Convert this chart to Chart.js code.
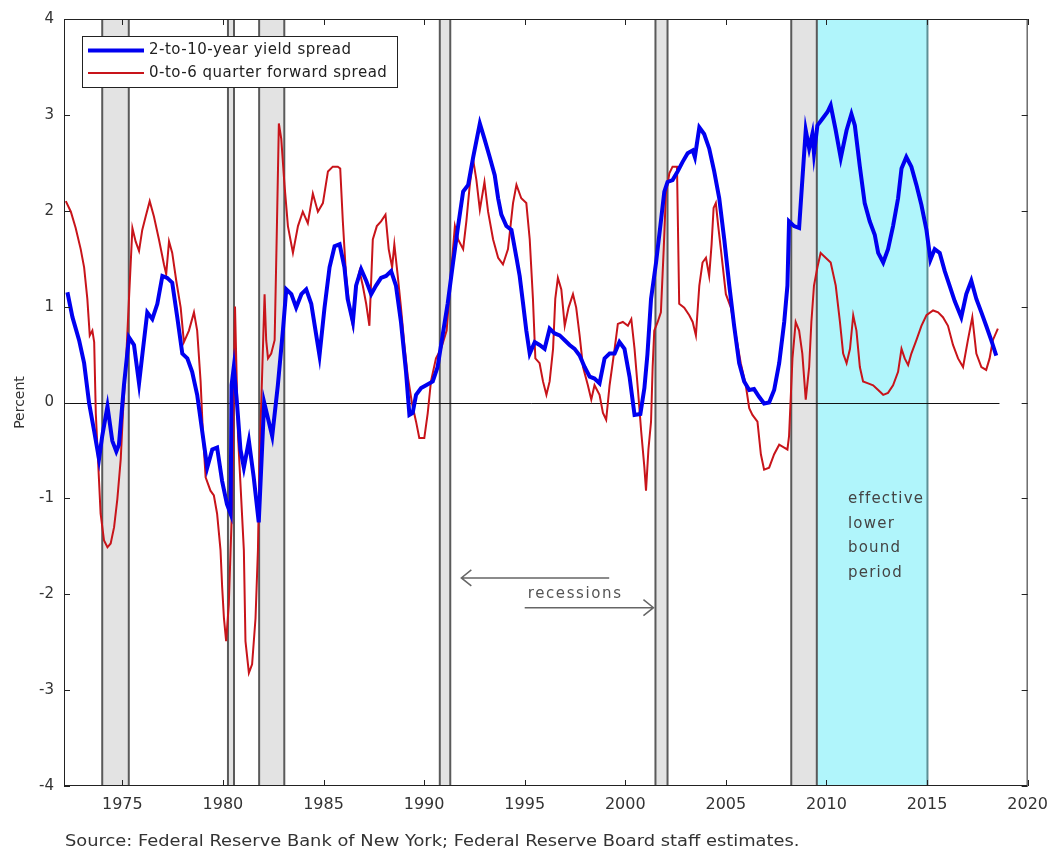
<!DOCTYPE html>
<html>
<head>
<meta charset="utf-8">
<script src="https://cdn.jsdelivr.net/npm/chart.js@4.4.1/dist/chart.umd.min.js"></script>
<style>
  body { margin: 0; background: #fff; }
  #wrap { position: relative; width: 1057px; height: 854px; }
  #source {
    position: absolute; left: 65px; top: 832px;
    font: 15px "DejaVu Sans", sans-serif; color: #333; white-space: nowrap;
    transform: scaleX(1.19); transform-origin: left top;
  }
</style>
</head>
<body>
<div id="wrap">
  <canvas id="spreadChart" width="1057" height="854"></canvas>
  <div id="source">Source: Federal Reserve Bank of New York; Federal Reserve Board staff estimates.</div>
</div>
<script>
// --- DATA ---
const spreadYears = [
  1972.27, 1972.52, 1972.85, 1973.10, 1973.35, 1973.60, 1973.84, 1974.00, 1974.26, 1974.50,
  1974.70, 1974.83, 1975.08, 1975.33, 1975.58, 1975.83, 1976.00, 1976.24, 1976.49, 1976.74,
  1976.99, 1977.23, 1977.48, 1977.73, 1977.98, 1978.23, 1978.47, 1978.72, 1978.97, 1979.22,
  1979.47, 1979.71, 1979.96, 1980.20, 1980.38, 1980.43, 1980.54, 1980.70, 1980.87, 1981.04,
  1981.29, 1981.53, 1981.78, 1982.05, 1982.45, 1982.73, 1982.98, 1983.15, 1983.40, 1983.64,
  1983.90, 1984.14, 1984.39, 1984.64, 1984.80, 1985.05, 1985.30, 1985.55, 1985.80, 1986.04,
  1986.20, 1986.46, 1986.62, 1986.87, 1987.12, 1987.37, 1987.61, 1987.86, 1988.11, 1988.36,
  1988.60, 1988.85, 1989.10, 1989.27, 1989.43, 1989.60, 1989.85, 1990.10, 1990.43, 1990.67,
  1990.92, 1991.17, 1991.44, 1991.69, 1991.94, 1992.19, 1992.44, 1992.77, 1993.00, 1993.26,
  1993.51, 1993.68, 1993.84, 1994.09, 1994.34, 1994.59, 1994.75, 1994.92, 1995.08, 1995.25,
  1995.50, 1995.74, 1995.99, 1996.24, 1996.49, 1996.74, 1996.99, 1997.23, 1997.48, 1997.73,
  1997.98, 1998.23, 1998.47, 1998.72, 1998.97, 1999.22, 1999.47, 1999.71, 1999.96, 2000.21,
  2000.46, 2000.75, 2000.95, 2001.10, 2001.28, 2001.53, 2001.77, 2001.94, 2002.10, 2002.35,
  2002.60, 2002.85, 2003.10, 2003.35, 2003.46, 2003.68, 2003.92, 2004.17, 2004.42, 2004.67,
  2004.92, 2005.17, 2005.41, 2005.66, 2005.91, 2006.16, 2006.40, 2006.65, 2006.90, 2007.15,
  2007.40, 2007.65, 2007.90, 2008.06, 2008.14, 2008.39, 2008.64, 2008.80, 2008.97, 2009.14,
  2009.30, 2009.38, 2009.55, 2009.80, 2010.05, 2010.21, 2010.45, 2010.71, 2011.00, 2011.24,
  2011.41, 2011.66, 2011.90, 2012.15, 2012.40, 2012.57, 2012.82, 2013.06, 2013.31, 2013.56,
  2013.73, 2013.97, 2014.22, 2014.47, 2014.72, 2014.97, 2015.17, 2015.38, 2015.63, 2015.88,
  2016.12, 2016.37, 2016.70, 2016.95, 2017.20, 2017.45, 2017.70, 2017.94, 2018.19, 2018.44
];
const spreadValues = [
  1.15, 0.89, 0.65, 0.41, -0.01, -0.30, -0.59, -0.35, -0.04, -0.40,
  -0.51, -0.44, 0.18, 0.68, 0.60, 0.20, 0.51, 0.94, 0.87, 1.03,
  1.32, 1.30, 1.25, 0.89, 0.51, 0.46, 0.32, 0.08, -0.30, -0.68,
  -0.49, -0.47, -0.82, -1.06, -1.16, 0.18, 0.37, -0.01, -0.49, -0.68,
  -0.40, -0.78, -1.25, 0.00, -0.35, 0.18, 0.75, 1.18, 1.13, 0.99,
  1.13, 1.18, 1.03, 0.70, 0.49, 0.99, 1.41, 1.63, 1.65, 1.41,
  1.08, 0.84, 1.22, 1.39, 1.27, 1.13, 1.22, 1.30, 1.32, 1.37,
  1.22, 0.84, 0.32, -0.13, -0.11, 0.08, 0.15, 0.18, 0.22, 0.37,
  0.70, 1.03, 1.46, 1.84, 2.20, 2.27, 2.56, 2.91, 2.75, 2.56,
  2.37, 2.13, 1.96, 1.84, 1.80, 1.51, 1.32, 1.03, 0.75, 0.51,
  0.63, 0.60, 0.56, 0.77, 0.72, 0.70, 0.65, 0.60, 0.56, 0.49,
  0.37, 0.27, 0.25, 0.20, 0.46, 0.51, 0.51, 0.63, 0.56, 0.27,
  -0.13, -0.12, 0.15, 0.50, 1.08, 1.46, 1.89, 2.20, 2.30, 2.32,
  2.41, 2.51, 2.60, 2.63, 2.56, 2.87, 2.80, 2.65, 2.41, 2.13,
  1.70, 1.22, 0.80, 0.41, 0.22, 0.13, 0.14, 0.06, -0.01, 0.00,
  0.13, 0.41, 0.84, 1.22, 1.89, 1.84, 1.82, 2.32, 2.84, 2.65,
  2.80, 2.60, 2.89, 2.96, 3.03, 3.10, 2.85, 2.55, 2.84, 3.01,
  2.89, 2.46, 2.08, 1.89, 1.75, 1.56, 1.46, 1.60, 1.84, 2.13,
  2.44, 2.56, 2.46, 2.27, 2.06, 1.80, 1.49, 1.60, 1.56, 1.37,
  1.22, 1.06, 0.89, 1.13, 1.27, 1.08, 0.94, 0.80, 0.65, 0.49
];

const forwardYears = [
  1972.19, 1972.44, 1972.68, 1972.93, 1973.10, 1973.26, 1973.38, 1973.51, 1973.60, 1973.68,
  1973.81, 1973.92, 1974.09, 1974.26, 1974.42, 1974.59, 1974.75, 1974.92, 1975.03, 1975.17,
  1975.33, 1975.50, 1975.66, 1975.83, 1975.99, 1976.16, 1976.36, 1976.57, 1976.82, 1977.07,
  1977.18, 1977.32, 1977.48, 1977.68, 1977.90, 1978.06, 1978.31, 1978.56, 1978.72, 1978.89,
  1979.00, 1979.14, 1979.38, 1979.55, 1979.71, 1979.88, 1979.96, 1980.05, 1980.16, 1980.29,
  1980.38, 1980.46, 1980.60, 1980.75, 1981.04, 1981.12, 1981.29, 1981.45, 1981.62, 1981.74,
  1981.82, 1981.96, 1982.07, 1982.15, 1982.24, 1982.40, 1982.57, 1982.68, 1982.78, 1982.90,
  1983.06, 1983.23, 1983.48, 1983.73, 1983.97, 1984.22, 1984.47, 1984.72, 1984.97, 1985.22,
  1985.46, 1985.71, 1985.83, 1985.96, 1986.12, 1986.29, 1986.46, 1986.62, 1986.79, 1986.95,
  1987.12, 1987.28, 1987.45, 1987.65, 1987.86, 1988.08, 1988.24, 1988.41, 1988.52, 1988.69,
  1988.85, 1989.02, 1989.19, 1989.40, 1989.60, 1989.76, 1990.01, 1990.18, 1990.34, 1990.59,
  1990.84, 1991.12, 1991.36, 1991.53, 1991.69, 1991.94, 1992.10, 1992.27, 1992.44, 1992.60,
  1992.77, 1993.00, 1993.18, 1993.43, 1993.68, 1993.92, 1994.17, 1994.42, 1994.59, 1994.83,
  1995.08, 1995.25, 1995.41, 1995.53, 1995.74, 1995.91, 1996.08, 1996.24, 1996.41, 1996.52,
  1996.65, 1996.82, 1996.99, 1997.18, 1997.40, 1997.56, 1997.73, 1997.90, 1998.14, 1998.31,
  1998.47, 1998.72, 1998.89, 1999.05, 1999.22, 1999.47, 1999.63, 1999.88, 2000.13, 2000.30,
  2000.46, 2000.63, 2000.79, 2000.95, 2001.03, 2001.15, 2001.28, 2001.36, 2001.44, 2001.61,
  2001.77, 2001.91, 2002.02, 2002.19, 2002.35, 2002.57, 2002.68, 2002.93, 2003.18, 2003.35,
  2003.51, 2003.68, 2003.84, 2004.01, 2004.17, 2004.29, 2004.39, 2004.50, 2004.62, 2004.75,
  2005.00, 2005.25, 2005.50, 2005.74, 2005.99, 2006.16, 2006.32, 2006.57, 2006.74, 2006.90,
  2007.15, 2007.40, 2007.65, 2007.90, 2008.06, 2008.14, 2008.31, 2008.47, 2008.64, 2008.80,
  2008.97, 2009.14, 2009.25, 2009.38, 2009.55, 2009.71, 2009.96, 2010.21, 2010.46, 2010.67,
  2010.83, 2011.00, 2011.17, 2011.33, 2011.49, 2011.66, 2011.82, 2012.07, 2012.32, 2012.57,
  2012.82, 2013.06, 2013.31, 2013.56, 2013.73, 2013.89, 2014.06, 2014.22, 2014.47, 2014.72,
  2014.97, 2015.30, 2015.55, 2015.79, 2016.04, 2016.29, 2016.54, 2016.79, 2017.03, 2017.25,
  2017.45, 2017.70, 2017.94, 2018.11, 2018.27, 2018.52
];
const forwardValues = [
  2.10, 1.99, 1.82, 1.60, 1.41, 1.08, 0.70, 0.75, 0.63, -0.11,
  -0.68, -1.16, -1.44, -1.51, -1.47, -1.30, -1.01, -0.59, -0.11, 0.37,
  1.08, 1.82, 1.68, 1.58, 1.80, 1.94, 2.10, 1.94, 1.70, 1.44,
  1.34, 1.68, 1.56, 1.27, 0.99, 0.63, 0.75, 0.94, 0.75, 0.22,
  -0.30, -0.78, -0.92, -0.97, -1.16, -1.54, -1.92, -2.25, -2.49, -2.11,
  -1.54, -1.06, 1.00, -0.35, -1.54, -2.49, -2.82, -2.73, -2.25, -1.54,
  -0.59, 0.37, 1.13, 0.65, 0.46, 0.51, 0.65, 1.80, 2.91, 2.75,
  2.27, 1.84, 1.56, 1.84, 1.99, 1.87, 2.18, 1.99, 2.08, 2.41,
  2.46, 2.46, 2.44, 1.89, 1.32, 0.99, 0.80, 1.22, 1.37, 1.22,
  1.03, 0.80, 1.70, 1.84, 1.89, 1.96, 1.60, 1.41, 1.65, 1.32,
  0.99, 0.60, 0.27, -0.01, -0.20, -0.37, -0.37, -0.11, 0.22, 0.46,
  0.56, 0.75, 1.41, 1.84, 1.70, 1.60, 1.89, 2.27, 2.53, 2.32,
  2.01, 2.30, 1.99, 1.70, 1.51, 1.44, 1.60, 2.08, 2.27, 2.13,
  2.08, 1.70, 1.08, 0.46, 0.41, 0.22, 0.08, 0.22, 0.56, 1.08,
  1.30, 1.18, 0.80, 0.99, 1.13, 0.99, 0.70, 0.37, 0.18, 0.03,
  0.18, 0.08, -0.11, -0.18, 0.18, 0.56, 0.82, 0.84, 0.80, 0.87,
  0.56, 0.13, -0.30, -0.68, -0.92, -0.49, -0.20, 0.37, 0.75, 0.84,
  0.94, 1.60, 2.18, 2.39, 2.46, 2.46, 1.03, 0.99, 0.91, 0.84,
  0.70, 1.22, 1.46, 1.51, 1.32, 1.65, 2.03, 2.08, 1.84, 1.60,
  1.13, 0.99, 0.70, 0.41, 0.18, -0.06, -0.13, -0.20, -0.54, -0.70,
  -0.68, -0.54, -0.44, -0.47, -0.49, -0.35, 0.46, 0.84, 0.75, 0.51,
  0.03, 0.37, 0.84, 1.22, 1.41, 1.56, 1.51, 1.46, 1.22, 0.84,
  0.51, 0.41, 0.56, 0.91, 0.75, 0.37, 0.22, 0.20, 0.18, 0.13,
  0.08, 0.10, 0.18, 0.32, 0.56, 0.46, 0.39, 0.51, 0.65, 0.80,
  0.91, 0.96, 0.94, 0.89, 0.80, 0.60, 0.46, 0.37, 0.65, 0.89,
  0.51, 0.37, 0.34, 0.46, 0.65, 0.77
];

// NBER recessions and the effective lower bound period (decimal years)
const recessionStarts = [1974.00, 1980.25, 1981.80, 1990.78, 2001.50, 2008.25];
const recessionEnds   = [1975.32, 1980.55, 1983.05, 1991.30, 2002.10, 2009.52];
const elbStart = 2009.52;
const elbEnd = 2015.02;
const zeroLineEnd = 2018.6;

const xMin = 1972.1, xMax = 2020;
const yMin = -4, yMax = 4;
const xTickStep = 5, yTickStep = 1;

const FONT = '"DejaVu Sans", sans-serif';

function toPoints(xs, ys) {
    return xs.map((x, i) => ({ x: x, y: ys[i] }));
}

// --- BACKGROUND: recession bars, ELB shading, zero line ---
const shadingPlugin = {
    id: 'shading',
    beforeDatasetsDraw(chart) {
        const { ctx, chartArea: a, scales: { x, y } } = chart;
        ctx.save();

        const e0 = x.getPixelForValue(elbStart), e1 = x.getPixelForValue(elbEnd);
        ctx.fillStyle = '#b0f5fb';
        ctx.fillRect(e0, a.top, e1 - e0, a.bottom - a.top);
        ctx.strokeStyle = '#5e9096';
        ctx.lineWidth = 2;
        ctx.beginPath();
        ctx.moveTo(e1, a.top); ctx.lineTo(e1, a.bottom);
        ctx.stroke();

        recessionStarts.forEach((s, i) => {
            const r0 = x.getPixelForValue(s), r1 = x.getPixelForValue(recessionEnds[i]);
            ctx.fillStyle = '#e3e3e3';
            ctx.fillRect(r0, a.top, r1 - r0, a.bottom - a.top);
            ctx.strokeStyle = '#5a5a5a';
            ctx.lineWidth = 2;
            ctx.beginPath();
            ctx.moveTo(r0, a.top); ctx.lineTo(r0, a.bottom);
            ctx.moveTo(r1, a.top); ctx.lineTo(r1, a.bottom);
            ctx.stroke();
        });

        // horizontal zero line
        const y0 = Math.round(y.getPixelForValue(0)) + 0.5;
        ctx.strokeStyle = '#111';
        ctx.lineWidth = 1;
        ctx.beginPath();
        ctx.moveTo(a.left, y0);
        ctx.lineTo(x.getPixelForValue(zeroLineEnd), y0);
        ctx.stroke();
        ctx.restore();
    },

    afterDatasetsDraw(chart) {
        const { ctx, chartArea: a, scales: { x, y } } = chart;
        ctx.save();

        // frame + inward ticks on all four sides
        ctx.strokeStyle = '#222';
        ctx.lineWidth = 1;
        ctx.strokeRect(a.left + 0.5, a.top + 0.5, a.right - a.left - 1, a.bottom - a.top - 1);
        const tl = 6;
        ctx.beginPath();
        for (let v = yMin; v <= yMax; v += yTickStep) {
            const py = Math.round(y.getPixelForValue(v)) + 0.5;
            ctx.moveTo(a.left, py); ctx.lineTo(a.left + tl, py);
            ctx.moveTo(a.right, py); ctx.lineTo(a.right - tl, py);
        }
        for (let v = Math.ceil(xMin / xTickStep) * xTickStep; v <= xMax; v += xTickStep) {
            const px = Math.round(x.getPixelForValue(v)) + 0.5;
            ctx.moveTo(px, a.bottom); ctx.lineTo(px, a.bottom - tl);
            ctx.moveTo(px, a.top); ctx.lineTo(px, a.top + tl);
        }
        ctx.stroke();

        // ELB label
        ctx.fillStyle = '#444';
        ctx.font = '15px ' + FONT;
        ctx.letterSpacing = '1.2px';
        ctx.textAlign = 'left';
        ctx.textBaseline = 'middle';
        const lx = x.getPixelForValue(2011.07);
        const ly = y.getPixelForValue(-1.01);
        ['effective', 'lower', 'bound', 'period'].forEach((t, i) => ctx.fillText(t, lx, ly + i * 24.5));

        // recession arrows
        ctx.strokeStyle = '#666';
        ctx.lineWidth = 1.5;
        const arrow = (fromYr, toYr, val) => {
            const x0 = x.getPixelForValue(fromYr), x1 = x.getPixelForValue(toYr), py = y.getPixelForValue(val);
            const dir = Math.sign(x1 - x0);
            ctx.beginPath();
            ctx.moveTo(x0, py); ctx.lineTo(x1, py);
            ctx.moveTo(x1 - dir * 10, py - 8); ctx.lineTo(x1, py); ctx.lineTo(x1 - dir * 10, py + 8);
            ctx.stroke();
        };
        arrow(1999.2, 1991.85, -1.83);
        arrow(1995.0, 2001.4, -2.14);
        ctx.fillStyle = '#555';
        ctx.letterSpacing = '1.6px';
        ctx.textAlign = 'left';
        ctx.fillText('recessions', x.getPixelForValue(1995.15), y.getPixelForValue(-2.0));
        ctx.restore();
    },

    // legend box in the upper left of the plot
    afterDraw(chart) {
        const { ctx, chartArea: a } = chart;
        const bx = a.left + 18, by = a.top + 17, bw = 315, bh = 51;
        ctx.save();
        ctx.fillStyle = '#fff';
        ctx.fillRect(bx, by, bw, bh);
        ctx.strokeStyle = '#222';
        ctx.lineWidth = 1;
        ctx.strokeRect(bx + 0.5, by + 0.5, bw, bh);
        ctx.font = '15px ' + FONT;
        ctx.letterSpacing = '0.5px';
        ctx.textAlign = 'left';
        ctx.textBaseline = 'middle';
        chart.data.datasets.forEach((ds, i) => {
            const ly = by + 14.5 + i * 22.5;
            ctx.strokeStyle = ds.borderColor;
            ctx.lineWidth = ds.borderWidth;
            ctx.beginPath();
            ctx.moveTo(bx + 6, ly); ctx.lineTo(bx + 62, ly);
            ctx.stroke();
            ctx.fillStyle = '#222';
            ctx.fillText(ds.label, bx + 67, ly);
        });
        ctx.restore();
    }
};

new Chart(document.getElementById('spreadChart'), {
    type: 'line',
    data: {
        datasets: [
            {
                label: '2-to-10-year yield spread',
                data: toPoints(spreadYears, spreadValues),
                borderColor: '#0000f0',
                borderWidth: 4,
                pointRadius: 0,
                tension: 0
            },
            {
                label: '0-to-6 quarter forward spread',
                data: toPoints(forwardYears, forwardValues),
                borderColor: '#c8141a',
                borderWidth: 2,
                pointRadius: 0,
                tension: 0
            }
        ]
    },
    options: {
        responsive: false,
        animation: false,
        layout: { padding: { top: 16, right: 27, left: 0, bottom: 0 } },
        plugins: { legend: { display: false }, tooltip: { enabled: false } },
        scales: {
            x: {
                type: 'linear',
                min: xMin,
                max: xMax,
                grid: { display: false, drawTicks: false },
                border: { display: false },
                ticks: {
                    stepSize: xTickStep,
                    includeBounds: false,
                    padding: 9,
                    color: '#333',
                    font: { family: FONT, size: 16 },
                    maxRotation: 0,
                    callback: v => String(v)
                },
                afterFit: s => { s.height = 68; }
            },
            y: {
                min: yMin,
                max: yMax,
                grid: { display: false, drawTicks: false },
                border: { display: false },
                ticks: {
                    stepSize: yTickStep,
                    padding: 10,
                    color: '#333',
                    font: { family: FONT, size: 15 }
                },
                title: {
                    display: true,
                    text: 'Percent',
                    color: '#333',
                    font: { family: FONT, size: 14 },
                    padding: { top: 12, bottom: 0 }
                },
                afterFit: s => { s.width = 64; }
            }
        }
    },
    plugins: [shadingPlugin]
});
</script>
</body>
</html>
